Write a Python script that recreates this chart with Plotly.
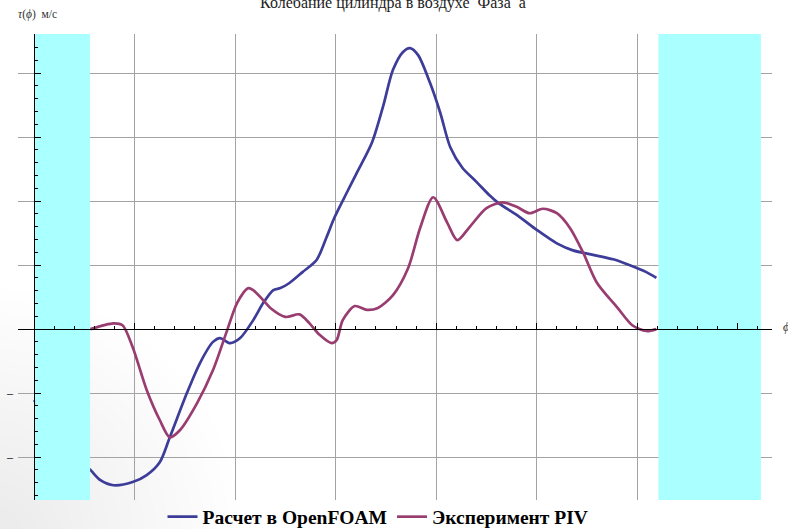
import plotly.graph_objects as go

# ---- data (x in grid units, y in grid units) ----
openfoam_x = [0.00, 0.26, 0.56, 0.66, 0.79, 0.98, 1.12, 1.25, 1.35, 1.52, 1.65, 1.78, 1.85, 1.95, 2.05,
              2.18, 2.28, 2.38, 2.45, 2.54, 2.67, 2.81, 2.91, 2.99, 3.11, 3.21, 3.36, 3.47, 3.57, 3.67,
              3.74, 3.82, 3.94, 4.04, 4.14, 4.26, 4.40, 4.53, 4.61, 4.83, 5.00, 5.20, 5.36, 5.56, 5.76,
              5.92, 6.09, 6.19]
openfoam_y = [-1.11, -1.73, -2.20, -2.36, -2.44, -2.39, -2.28, -2.08, -1.69, -1.00, -0.53, -0.20, -0.14, -0.22, -0.14,
              0.14, 0.41, 0.61, 0.64, 0.72, 0.89, 1.08, 1.44, 1.75, 2.13, 2.44, 2.91, 3.47, 4.05, 4.33,
              4.39, 4.28, 3.84, 3.38, 2.84, 2.52, 2.30, 2.09, 1.98, 1.75, 1.55, 1.34, 1.23, 1.16, 1.09,
              1.00, 0.89, 0.80]

piv_x = [0.56, 0.79, 0.88, 0.98, 1.12, 1.25, 1.35, 1.45, 1.62, 1.78, 1.92, 2.02, 2.13, 2.18, 2.28,
         2.35, 2.50, 2.64, 2.74, 2.84, 2.96, 3.01, 3.07, 3.19, 3.31, 3.42, 3.57, 3.72, 3.84, 3.97,
         4.11, 4.21, 4.33, 4.50, 4.66, 4.80, 4.93, 5.06, 5.20, 5.33, 5.46, 5.60, 5.80, 5.95, 6.09, 6.19]
piv_y = [0.00, 0.09, 0.06, -0.28, -0.95, -1.42, -1.69, -1.58, -1.16, -0.64, -0.02, 0.41, 0.64, 0.61, 0.45,
         0.33, 0.19, 0.23, 0.09, -0.09, -0.22, -0.17, 0.14, 0.36, 0.30, 0.33, 0.53, 0.95, 1.58, 2.06,
         1.66, 1.39, 1.59, 1.89, 1.98, 1.91, 1.81, 1.88, 1.81, 1.58, 1.20, 0.72, 0.34, 0.06, -0.03, 0.00]

band_left = [0.01, 0.557]
band_right = [6.21, 7.23]

series_names = ["Расчет в OpenFOAM", "Эксперимент PIV"]
title_text = "Колебание цилиндра в воздухе\u00a0 Фаза\u00a0 a"

X_RANGE = [-0.16, 7.34]
Y_RANGE = [-2.67, 4.61]

BLUE = "rgb(61,61,153)"
PURPLE = "rgb(153,61,113)"
CYAN = "rgb(170,255,255)"

fig = go.Figure()
fig.add_trace(go.Scatter(x=openfoam_x, y=openfoam_y, mode="lines", name=series_names[0],
                         line=dict(color=BLUE, width=2.7, shape="spline", smoothing=0.8)))
fig.add_trace(go.Scatter(x=piv_x, y=piv_y, mode="lines", name=series_names[1],
                         line=dict(color=PURPLE, width=2.7, shape="spline", smoothing=0.8)))

ylo, yhi = Y_RANGE[0] - 0.1, Y_RANGE[1] + 0.1
for b in (band_left, band_right):
    fig.add_trace(go.Scatter(x=[b[0], b[1], b[1], b[0], b[0]], y=[ylo, ylo, yhi, yhi, ylo],
                             mode="lines", fill="toself", fillcolor=CYAN, line=dict(width=0, color=CYAN),
                             showlegend=False, hoverinfo="skip"))

W, H = 788, 529
ML, MR, MT, MB = 18, 16, 34, 29
PW, PH = W - ML - MR, H - MT - MB

def px_x(p):
    return (p - ML) / PW

def px_y(p):
    return (H - MB - p) / PH

# soft grey corner shading (slide background)
shapes = []
for r in range(12, 264, 12):
    shapes.append(dict(type="circle", xref="paper", yref="paper", layer="below",
                       x0=px_x(-10 - r), x1=px_x(-10 + r), y0=px_y(540 + r), y1=px_y(540 - r),
                       fillcolor="rgba(0,0,0,0.0045)", line=dict(width=0)))

xpos = (0 - Y_RANGE[0]) / (Y_RANGE[1] - Y_RANGE[0])
ypos = (0 - X_RANGE[0]) / (X_RANGE[1] - X_RANGE[0])

fig.update_layout(
    width=W, height=H, autosize=False,
    margin=dict(l=ML, r=MR, t=MT, b=MB, autoexpand=False),
    paper_bgcolor="white", plot_bgcolor="rgba(0,0,0,0)",
    shapes=shapes,
    xaxis=dict(range=X_RANGE, anchor="free", position=xpos, showline=True, linecolor="black", linewidth=1.2,
               ticks="inside", tick0=0, dtick=1, ticklen=6, tickcolor="black", tickwidth=1,
               showticklabels=False, showgrid=True, gridcolor="#a3a3a3", gridwidth=1.2, zeroline=False,
               minor=dict(tick0=0, dtick=0.2, ticks="inside", ticklen=3, tickcolor="black", showgrid=False)),
    yaxis=dict(range=Y_RANGE, anchor="free", position=ypos, showline=True, linecolor="black", linewidth=1.2,
               ticks="inside", tick0=0, dtick=1, ticklen=6, tickcolor="black", tickwidth=1,
               showticklabels=False, showgrid=True, gridcolor="#a3a3a3", gridwidth=1.2, zeroline=False,
               minor=dict(tick0=0, dtick=0.2, ticks="inside", ticklen=3, tickcolor="black", showgrid=False)),
    legend=dict(orientation="h", x=px_x(378), xanchor="center", y=px_y(517), yanchor="middle",
                font=dict(family="Liberation Serif", size=19.5, color="black", weight="bold"),
                bgcolor="rgba(0,0,0,0)", itemwidth=30),
    showlegend=True,
)

annotations = [
    dict(text=title_text, xref="paper", yref="paper", x=px_x(393), y=px_y(14), xanchor="center",
         yanchor="bottom", showarrow=False, font=dict(family="Liberation Serif", size=16, color="#222")),
    dict(text="<i>τ</i>(<i>ϕ</i>)\u00a0 м/с", xref="paper", yref="paper", x=px_x(16), y=px_y(15),
         xanchor="left", yanchor="middle", showarrow=False, font=dict(family="Liberation Serif", size=11.5, color="#333")),
    dict(text="<i>ϕ</i>", xref="paper", yref="y", x=px_x(781), y=0.03, xanchor="left", yanchor="middle",
         showarrow=False, font=dict(family="Liberation Serif", size=12, color="#333")),
]
for v in [-1, -2]:
    annotations.append(dict(text="–", xref="paper", yref="y", x=px_x(9.5), y=v, xanchor="center",
                            yanchor="middle", showarrow=False, font=dict(family="Liberation Serif", size=12, color="black")))
fig.update_layout(annotations=annotations)

fig.write_html("out.html", config={"displayModeBar": False},
               post_script="document.body.style.margin='0';document.body.style.overflow='hidden';")
